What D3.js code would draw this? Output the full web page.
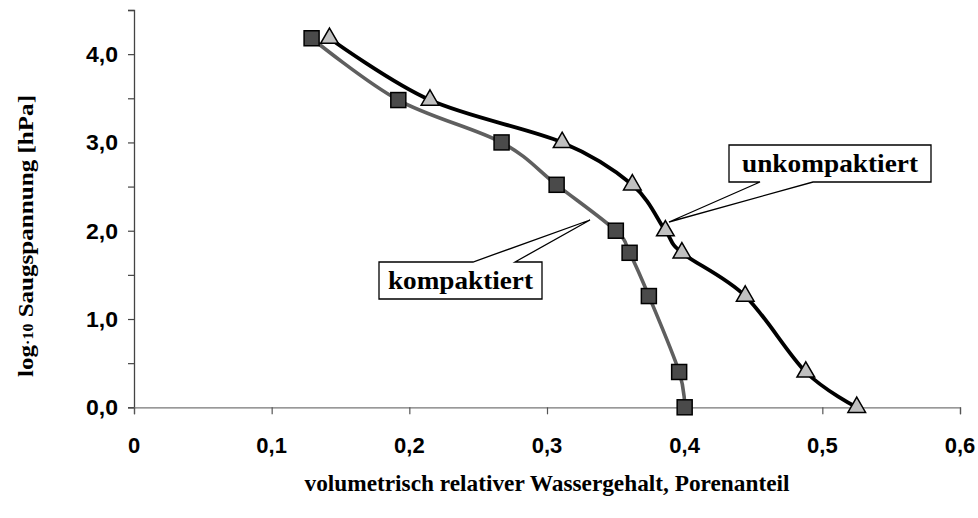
<!DOCTYPE html>
<html><head><meta charset="utf-8">
<script src="https://cdn.jsdelivr.net/npm/d3@7"></script>
<style>body{margin:0;background:#fff}svg{display:block}</style>
</head><body>
<script>
// Data
const suctionLog = [4.18, 3.48, 3.0, 2.52, 2.0, 1.75, 1.26, 0.4, 0.0];
const kompaktiert = [0.129, 0.192, 0.267, 0.307, 0.350, 0.360, 0.374, 0.396, 0.400];
const unkompaktiert = [0.142, 0.215, 0.311, 0.362, 0.386, 0.398, 0.444, 0.488, 0.525];
const xTicks = [0, 0.1, 0.2, 0.3, 0.4, 0.5, 0.6];
const yTicks = [0, 1, 2, 3, 4];
const yMinorTicks = [0, 0.5, 1, 1.5, 2, 2.5, 3, 3.5, 4, 4.5];

const W = 978, H = 518;
const svg = d3.select("body").append("svg").attr("width", W).attr("height", H);
const x = d3.scaleLinear().domain([0, 0.6]).range([134, 960]);
const y = d3.scaleLinear().domain([0, 4.5]).range([407.3, 10]);
const fmt = d => d === 0 ? "0" : d3.format(".1f")(d).replace(".", ",");
const fmtY = d => d3.format(".1f")(d).replace(".", ",");
const sans = "Liberation Sans, Arial, sans-serif";
const serif = "Liberation Serif, Times New Roman, serif";

// Y axis
const yAx = svg.append("g").attr("transform", `translate(${x(0)},0)`)
  .call(d3.axisLeft(y).tickValues(yMinorTicks).tickSize(6).tickFormat(""));
yAx.select(".domain").attr("stroke", "#444").attr("stroke-width", 1.3);
yAx.selectAll(".tick line").attr("stroke", "#444").attr("stroke-width", 1.2);
svg.append("g").selectAll("text").data(yTicks).join("text")
  .attr("x", 118).attr("y", d => y(d)).attr("dy", "0.36em")
  .attr("text-anchor", "end").attr("font-family", sans)
  .attr("font-weight", "bold").attr("font-size", 22).attr("fill", "#000")
  .attr("textLength", 32).attr("lengthAdjust", "spacingAndGlyphs")
  .text(fmtY);

// X axis
const xAx = svg.append("g").attr("transform", `translate(0,${y(0)})`)
  .call(d3.axisBottom(x).tickValues(xTicks).tickSize(7).tickFormat(""));
xAx.select(".domain").attr("stroke", "#777").attr("stroke-width", 1.3);
xAx.selectAll(".tick line").attr("stroke", "#555").attr("stroke-width", 1.2);
svg.append("g").selectAll("text").data(xTicks).join("text")
  .attr("x", d => x(d)).attr("y", 453)
  .attr("text-anchor", "middle").attr("font-family", sans)
  .attr("font-weight", "bold").attr("font-size", 22).attr("fill", "#000")
  .text(fmt);

// Axis titles
svg.append("text").attr("x", 547).attr("y", 491).attr("text-anchor", "middle")
  .attr("font-family", serif).attr("font-weight", "bold")
  .attr("font-size", 23).attr("fill", "#000")
  .attr("textLength", 485).attr("lengthAdjust", "spacingAndGlyphs")
  .text("volumetrisch relativer Wassergehalt, Porenanteil");
const yt = svg.append("text").attr("transform", "translate(33,236) rotate(-90)")
  .attr("text-anchor", "middle")
  .attr("font-family", serif).attr("font-weight", "bold")
  .attr("font-size", 22).attr("fill", "#000")
  .attr("textLength", 282).attr("lengthAdjust", "spacingAndGlyphs");
yt.append("tspan").text("log");
yt.append("tspan").attr("font-size", 14).text("·10");
yt.append("tspan").text(" Saugspannung [hPa]");

// Lines
const line = d3.line().x(d => x(d[0])).y(d => y(d[1])).curve(d3.curveCardinal.tension(0));
const kData = kompaktiert.map((v, i) => [v, suctionLog[i]]);
const uData = unkompaktiert.map((v, i) => [v, suctionLog[i]]);

svg.append("path").datum(kData).attr("d", line).attr("fill", "none")
  .attr("stroke", "#5f5f5f").attr("stroke-width", 3.6);
svg.append("g").selectAll("rect").data(kData).join("rect")
  .attr("x", d => x(d[0]) - 7.5).attr("y", d => y(d[1]) - 7.5)
  .attr("width", 15).attr("height", 15)
  .attr("fill", "#4a4a4a").attr("stroke", "#000").attr("stroke-width", 1.5);

svg.append("path").datum(uData).attr("d", line).attr("fill", "none")
  .attr("stroke", "#000").attr("stroke-width", 3.8);
const tri = d3.symbol().type(d3.symbolTriangle).size(135);
svg.append("g").selectAll("path").data(uData).join("path")
  .attr("d", tri).attr("transform", d => `translate(${x(d[0])},${y(d[1])})`)
  .attr("fill", "#c0c0c0").attr("stroke", "#000").attr("stroke-width", 1.5);

// Callouts
function callout(box, wedge, side, label, len) {
  const [x0, y0, x1, y1] = box;
  const [a, tip, b] = wedge;
  let pts;
  if (side === "bottom") {
    pts = [[x0, y0], [x1, y0], [x1, y1], [b, y1], tip, [a, y1], [x0, y1]];
  } else {
    pts = [[x0, y0], [a, y0], tip, [b, y0], [x1, y0], [x1, y1], [x0, y1]];
  }
  svg.append("path").attr("d", "M" + pts.map(p => p.join(",")).join("L") + "Z")
    .attr("fill", "#fff").attr("stroke", "#000").attr("stroke-width", 1.3);
  svg.append("text").attr("x", (x0 + x1) / 2).attr("y", (y0 + y1) / 2).attr("dy", "0.34em")
    .attr("text-anchor", "middle")
    .attr("font-family", serif).attr("font-weight", "bold")
    .attr("font-size", 26).attr("fill", "#000")
    .attr("textLength", len).attr("lengthAdjust", "spacingAndGlyphs").text(label);
}
callout([729, 145, 931, 182], [760, [669, 222], 813], "bottom", "unkompaktiert", 176);
callout([379, 262, 542, 299], [473, [590, 220], 515], "top", "kompaktiert", 145);
</script>
</body></html>
